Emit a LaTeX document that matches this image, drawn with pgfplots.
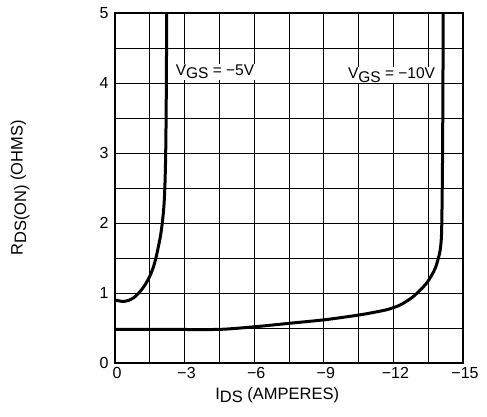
\documentclass[border=0pt]{standalone}
\usepackage{fontspec}
\setmainfont{Liberation Sans}
\usepackage{pgfplots}
\pgfplotsset{compat=1.18}
\begin{document}
\begin{tikzpicture}
\begin{axis}[
  name=ax,
  width=348pt, height=350pt, scale only axis,
  x dir=reverse,
  xmin=-15, xmax=0, ymin=0, ymax=5,
  xtick={0,-3,-6,-9,-12,-15},
  xticklabels={0,{−3},{−6},{−9},{−12},{−15}},
  minor xtick={-1.5,-4.5,-7.5,-10.5,-13.5},
  ytick={0,1,2,3,4,5},
  yticklabels={0,1,2,3,4,5},
  minor ytick={0.5,1.5,2.5,3.5,4.5},
  grid=both,
  major grid style={black, line width=0.9pt},
  minor grid style={black, line width=0.9pt},
  axis line style={black, line width=1.5pt},
  tick style={draw=none},
  tick label style={font=\fontsize{16}{18}\selectfont},
  xticklabel style={yshift=-1pt, xshift=2pt},
  yticklabel style={xshift=-3pt},
  every axis x label/.style={at={(axis description cs:0.466,-0.091)},anchor=center},
  every axis y label/.style={at={(axis description cs:-0.273,0.5)},rotate=90,anchor=center},
  xlabel={\fontsize{16.5}{18}\selectfont I\raisebox{-0.4ex}{DS} (AMPERES)},
  ylabel={\fontsize{16.5}{18}\selectfont R\raisebox{-0.4ex}{DS(ON)} (OHMS)},
  clip=true,
]
% VGS = -5V
\addplot[black, line width=3pt, smooth, tension=0.55] coordinates {
  (0,0.90) (-0.4,0.88) (-0.8,0.93) (-1.2,1.07) (-1.5,1.24) (-1.7,1.42)
  (-1.85,1.63) (-2.0,1.9) (-2.12,2.3) (-2.18,2.9) (-2.21,3.8) (-2.23,5.1)
};
% VGS = -10V
\addplot[black, line width=3pt, smooth, tension=0.4] coordinates {
  (0,0.48) (-2,0.48) (-4.5,0.48) (-6.1,0.52) (-7.6,0.57) (-9.1,0.62)
  (-10.6,0.69) (-11.7,0.76) (-12.3,0.83) (-12.86,0.95) (-13.43,1.14)
  (-13.8,1.35) (-14.01,1.6) (-14.08,1.9) (-14.12,3) (-14.15,5.1)
};
\node[fill=white, inner sep=1pt, font=\fontsize{15.5}{17}\selectfont] at (axis cs:-4.31,4.16) {V\raisebox{-0.4ex}{GS} = −5V};
\node[fill=white, inner sep=1pt, font=\fontsize{15.5}{17}\selectfont] at (axis cs:-11.92,4.11) {V\raisebox{-0.4ex}{GS} = −10V};
\end{axis}
\pgfresetboundingbox
\path ([xshift=-115pt,yshift=-54pt]ax.south west) rectangle ([xshift=24pt,yshift=13pt]ax.north east);
\end{tikzpicture}
\end{document}
